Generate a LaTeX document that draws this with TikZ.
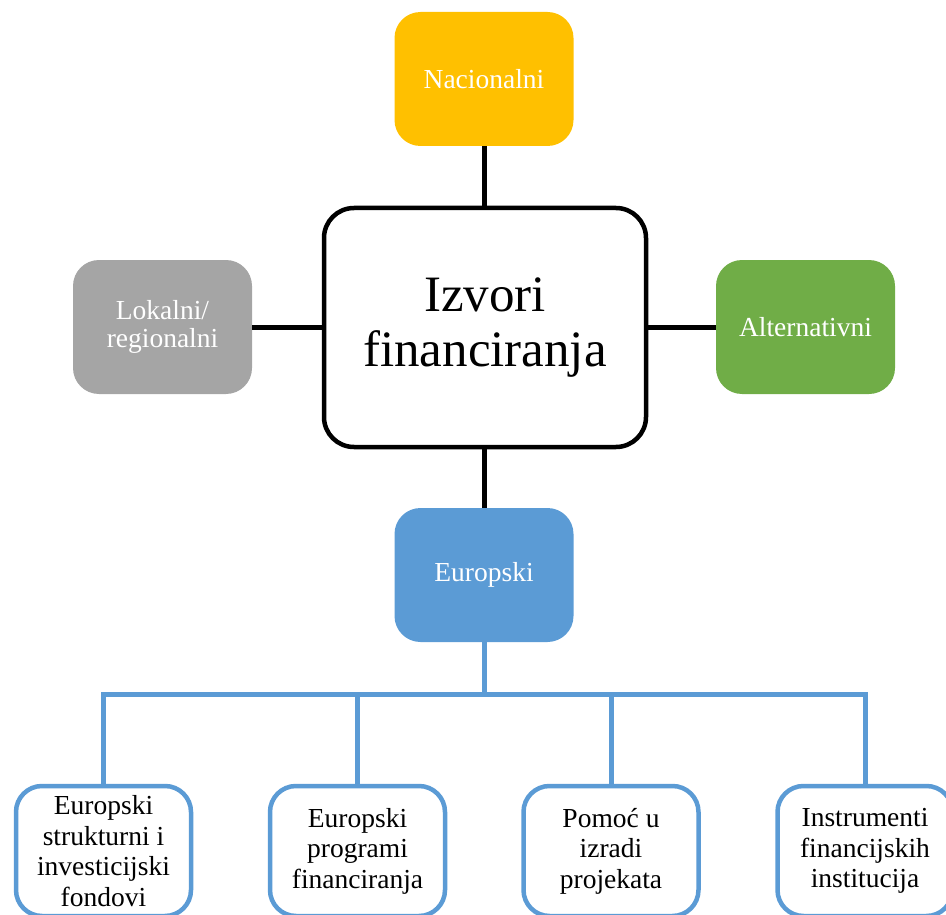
\documentclass[tikz,border=0pt]{standalone}
\usepackage{fontspec}
\setmainfont{Liberation Serif}
\definecolor{cyellow}{HTML}{FFC000}
\definecolor{cgreen}{HTML}{70AD47}
\definecolor{cgray}{HTML}{A5A5A5}
\definecolor{cblue}{HTML}{5B9BD5}
\begin{document}
\begin{tikzpicture}[x=1pt,y=-1pt,
  colbox/.style={rounded corners=26pt, minimum width=179pt, minimum height=134pt, inner sep=0pt,
    text=white, align=center, font=\fontsize{27.5}{28}\selectfont},
  subbox/.style={draw=cblue, line width=4.5pt, rounded corners=26pt, fill=white,
    minimum width=175pt, minimum height=130pt, inner sep=0pt, align=center,
    font=\fontsize{27.5}{30.5}\selectfont},
  mainbox/.style={draw=black, line width=4.5pt, rounded corners=30pt, fill=white,
    minimum width=322pt, minimum height=239pt, inner sep=0pt, align=center,
    font=\fontsize{51}{55}\selectfont},
  blackline/.style={line width=5pt, draw=black},
  blueline/.style={line width=5pt, draw=cblue, line join=miter}
]
\useasboundingbox (0,0) rectangle (946,915);
\clip (0,0) rectangle (946,915);
\node[mainbox] (c) at (485,327.5) {Izvori\\financiranja};
\node[colbox, fill=cyellow] (nac) at (484,79) {Nacionalni};
\node[colbox, fill=cgray] (lok) at (162.5,327) {Lokalni/\\regionalni};
\node[colbox, fill=cgreen] (alt) at (805.5,327) {Alternativni};
\node[colbox, fill=cblue] (eu) at (484,575) {Europski};
\coordinate (bus) at (484,694);
\node[subbox] (b1) at (103.5,851) {Europski\\strukturni i\\investicijski\\fondovi};
\node[subbox] (b2) at (357.5,851) {Europski\\programi\\financiranja};
\node[subbox] (b3) at (611,851) {Pomoć u\\izradi\\projekata};
\node[subbox] (b4) at (865,851) {Instrumenti\\financijskih\\institucija};
\draw[blackline] (nac.south) -- (nac.south |- c.north);
\draw[blackline] (c.south -| eu.north) -- (eu.north);
\draw[blackline] (lok.east) -- (lok.east -| c.west);
\draw[blackline] (alt.west) -- (alt.west -| c.east);
\draw[blueline] (eu.south) -- (bus);
\draw[blueline] (b1.north) -- (b1.north |- bus) -- (b4.north |- bus) -- (b4.north);
\draw[blueline] (b2.north) -- (b2.north |- bus);
\draw[blueline] (b3.north) -- (b3.north |- bus);
\end{tikzpicture}
\end{document}
